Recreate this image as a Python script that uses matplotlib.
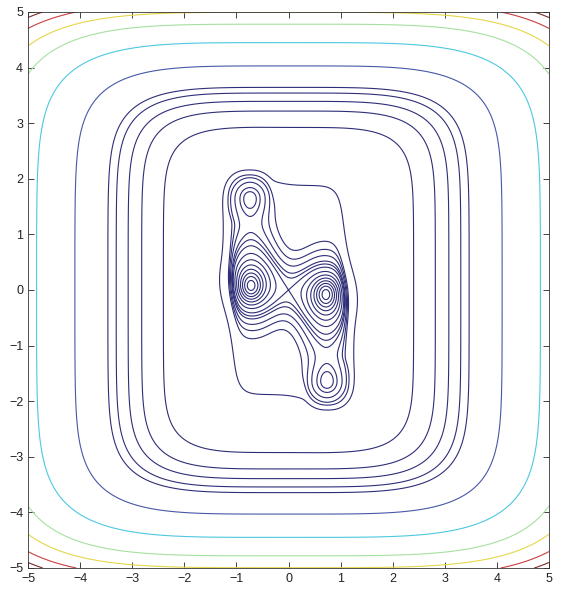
import numpy as np
import matplotlib
matplotlib.use("Agg")
import matplotlib.pyplot as plt

plt.rcParams['font.family'] = ['Liberation Sans', 'DejaVu Sans']

# outer confining part: |x/sx|^px + |y/sy|^py + k*(xy)^4
scale_x, scale_y = 4.1, 4.03
power_x, power_y = 4.5, 7.5
couple = 2.84e-6

# flat basin with steep walls: sheared rounded box plus two lobes
basin_depth = 0.5
wall_k = 10.0
box_a, box_b, box_shear = 1.12, 1.88, 0.065
lobe_x = [-0.75, 0.75]
lobe_y = [1.65, -1.65]
lobe_rx = [0.45, 0.45]
lobe_ry = [0.48, 0.48]

# valley chain: top-left well -> left well -> right well -> bottom-right well
seg_x0 = [-0.74, -0.72, 0.72]
seg_y0 = [1.66, 0.06, -0.45]
seg_x1 = [-0.72, 0.72, 0.74]
seg_y1 = [0.45, -0.06, -1.66]
seg_depth = [0.22, 0.25, 0.22]
seg_width = [0.38, 0.35, 0.38]

# wells: centre, broad skirt and narrow core
well_x = [-0.72, 0.72, -0.74, 0.74]
well_y = [0.06, -0.06, 1.66, -1.66]
skirt_depth = [0.45, 0.45, 0.0, 0.0]
skirt_wx = [0.4, 0.4, 0.4, 0.4]
skirt_wy = [0.6, 0.6, 0.6, 0.6]
core_depth = [0.3, 0.3, 0.2, 0.2]
core_wx = [0.14, 0.14, 0.26, 0.26]
core_wy = [0.17, 0.17, 0.26, 0.26]

# contour levels
deep_levels = [-1.55, -1.465, -1.38, -1.295, -1.21, -1.125, -1.04]
mid_levels = [-0.9, -0.855, -0.78, -0.71, -0.64, -0.25]
rect_levels = [0.09, 0.185, 0.275, 0.38, 0.47]
outer_levels = [1.0, 2.1, 3.6, 5.0, 6.5, 7.8]
outer_colors = ['#4658a8', '#4cc8e0', '#a6e0a0', '#e6d64a', '#c84040', '#7a2a2a']
navy = '#2e2e78'


def seg_dist(x, y, x0, y0, x1, y1):
    dx, dy = x1 - x0, y1 - y0
    t = np.clip(((x - x0) * dx + (y - y0) * dy) / (dx * dx + dy * dy), 0, 1)
    return np.hypot(x - x0 - t * dx, y - y0 - t * dy)


def wall(rho):
    return 0.5 * (1 - np.tanh(wall_k * (rho - 1)))


def gauss(x, y, cx, cy, wx, wy):
    return np.exp(-((x - cx) ** 2 / (2 * wx ** 2) + (y - cy) ** 2 / (2 * wy ** 2)))


def field(x, y):
    z = (np.abs(x) / scale_x) ** power_x + (np.abs(y) / scale_y) ** power_y + couple * (x * y) ** 4
    u = x + box_shear * y
    rho = ((np.abs(u) / box_a) ** 8 + (np.abs(y) / box_b) ** 8) ** (1 / 8)
    out = 1 - wall(rho)
    for lx, ly, rx, ry in zip(lobe_x, lobe_y, lobe_rx, lobe_ry):
        r = ((np.abs(x - lx) / rx) ** 2.5 + (np.abs(y - ly) / ry) ** 2.5) ** (1 / 2.5)
        out = out * (1 - wall(r))
    z = z - basin_depth * (1 - out)
    keep = 1.0
    for i in range(len(seg_depth)):
        d = seg_dist(x, y, seg_x0[i], seg_y0[i], seg_x1[i], seg_y1[i])
        keep = keep * (1 - seg_depth[i] * np.exp(-d ** 2 / (2 * seg_width[i] ** 2)))
    z = z - (1 - keep)
    for i in range(len(well_x)):
        z = z - skirt_depth[i] * gauss(x, y, well_x[i], well_y[i], skirt_wx[i], skirt_wy[i])
        z = z - core_depth[i] * gauss(x, y, well_x[i], well_y[i], core_wx[i], core_wy[i])
    return z


xs = np.linspace(-5, 5, 1201)
ys = np.linspace(-5, 5, 1201)
X, Y = np.meshgrid(xs, ys)
Z = field(X, Y)

saddle = field(0.0, 0.0)
inner = sorted(deep_levels + [saddle] + mid_levels)
levels = inner + rect_levels + outer_levels
colors = [navy] * (len(inner) + len(rect_levels)) + outer_colors

fig = plt.figure(figsize=(5.65, 5.92), dpi=100)
ax = fig.add_axes([28 / 565, 24 / 592, 521 / 565, 556 / 592])
ax.contour(X, Y, Z, levels=levels, colors=colors, linewidths=0.8)

ax.set_xlim(-5, 5)
ax.set_ylim(-5, 5)
ax.set_xticks(np.arange(-5, 6))
ax.set_yticks(np.arange(-5, 6))
ax.tick_params(direction='in', length=4, width=0.6, top=True, right=True, labelsize=9, colors='#222222')
for s in ax.spines.values():
    s.set_linewidth(0.6)
    s.set_color('#333333')

fig.savefig('out.png', dpi=100)
